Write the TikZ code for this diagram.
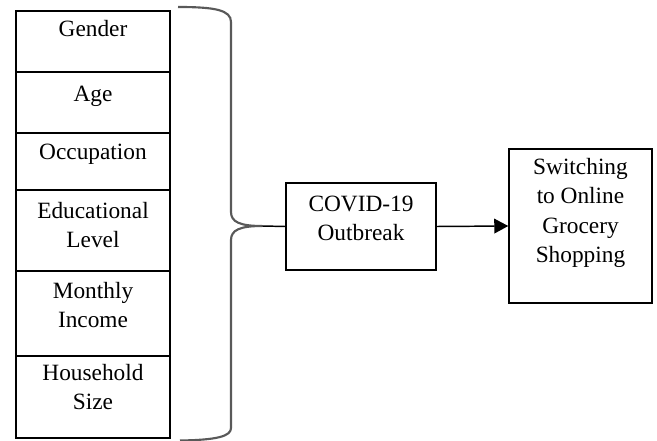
\documentclass[tikz,border=0pt]{standalone}
\usepackage{fontspec}
\setmainfont{Liberation Serif}
\usetikzlibrary{arrows.meta}
\tikzset{
  box/.style={draw=black, line width=1.1pt, inner sep=0pt},
  txt/.style={align=center, inner sep=0pt, font=\fontsize{17.5}{22.2}\selectfont},
  bracepath/.style={draw=black!65, line width=1.6pt},
  conn/.style={draw=black, line width=1.1pt},
}
\begin{document}
\begin{tikzpicture}[x=0.75pt,y=-0.75pt]
\useasboundingbox (0,0) rectangle (657,441);
% left column boxes
\node[box, minimum width=154*0.75pt, minimum height=61*0.75pt] (gender) at (93,41.5) {};
\node[box, minimum width=154*0.75pt, minimum height=61*0.75pt] (age) at (93,102.5) {};
\node[box, minimum width=154*0.75pt, minimum height=57*0.75pt] (occ) at (93,161.5) {};
\node[box, minimum width=154*0.75pt, minimum height=81*0.75pt] (edu) at (93,230.5) {};
\node[box, minimum width=154*0.75pt, minimum height=85*0.75pt] (inc) at (93,313.5) {};
\node[box, minimum width=154*0.75pt, minimum height=82*0.75pt] (hh) at (93,397) {};
% text (anchor base = baseline of the last line)
\node[txt, anchor=base] (tgender) at (93,37) {Gender};
\node[txt, anchor=base] (tage) at (93,102) {Age};
\node[txt, anchor=base] (tocc) at (93,160) {Occupation};
\node[txt, anchor=base] (tedu) at (93,248) {Educational\\Level};
\node[txt, anchor=base] (tinc) at (93,328) {Monthly\\Income};
\node[txt, anchor=base] (thh) at (93,410) {Household\\Size};
% brace
\coordinate (btip) at (262,226);
\draw[bracepath] (178,7) .. controls (215,7) and (231,10) .. (231,22)
  -- (231,212) .. controls (231,222) and (240,226) .. (btip)
  .. controls (240,226) and (231,230) .. (231,240)
  -- (231,428) .. controls (231,436) and (218,440) .. (180,440.5);
% COVID box
\node[box, minimum width=150*0.75pt, minimum height=87*0.75pt] (covid) at (361,226.5) {};
\node[txt, anchor=base] (tcovid) at (361,241) {COVID-19\\Outbreak};
% Switching box
\node[box, minimum width=143*0.75pt, minimum height=154*0.75pt] (sw) at (580.5,226) {};
\node[txt, anchor=base] (tsw) at (580.5,263) {Switching\\to Online\\Grocery\\Shopping};
% connectors
\draw[conn] (btip) -- (covid.west);
\draw[conn, -{Triangle[length=10.5pt,width=11pt]}] (covid.east) -- (sw.west);
\end{tikzpicture}
\end{document}
